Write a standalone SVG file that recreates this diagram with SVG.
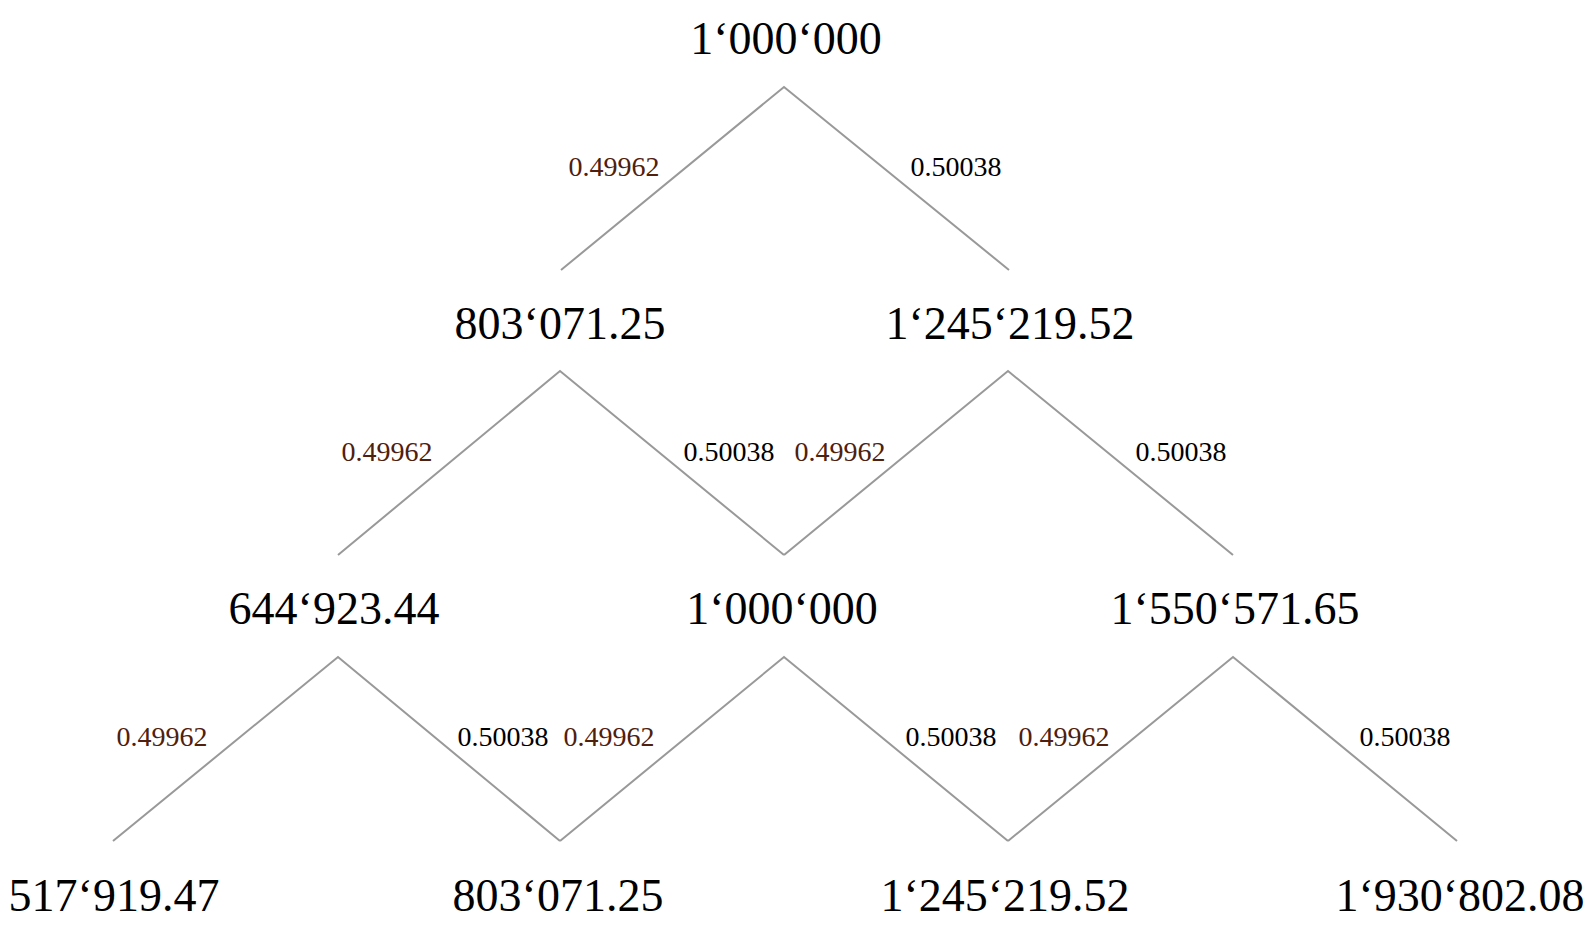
<svg xmlns="http://www.w3.org/2000/svg" width="1591" height="926" viewBox="0 0 1591 926">
<style>
.node{font-family:"Liberation Serif","DejaVu Serif",serif;font-size:46px;fill:#000;text-anchor:middle}
.pl{font-family:"Liberation Serif","DejaVu Serif",serif;font-size:28px;fill:#4f200d;text-anchor:middle}
.pr{font-family:"Liberation Serif","DejaVu Serif",serif;font-size:28px;fill:#000;text-anchor:middle}
.edge{fill:none;stroke:#999;stroke-width:2}
</style>
<rect width="1591" height="926" fill="#fff"/>
<g id="connectors">
<polyline class="edge" points="561,270 784,87 1009,270"/>
<polyline class="edge" points="338,555 560,371 784,555"/>
<polyline class="edge" points="784,555 1008,371 1233,555"/>
<polyline class="edge" points="113,841 338,657 560,841"/>
<polyline class="edge" points="560,841 784,657 1008,841"/>
<polyline class="edge" points="1008,841 1233,657 1457,841"/>
<text class="pl" x="614" y="176">0.49962</text>
<text class="pr" x="956" y="176">0.50038</text>
<text class="pl" x="387" y="461">0.49962</text>
<text class="pr" x="729" y="461">0.50038</text>
<text class="pl" x="840" y="461">0.49962</text>
<text class="pr" x="1181" y="461">0.50038</text>
<text class="pl" x="162" y="746">0.49962</text>
<text class="pr" x="503" y="746">0.50038</text>
<text class="pl" x="609" y="746">0.49962</text>
<text class="pr" x="951" y="746">0.50038</text>
<text class="pl" x="1064" y="746">0.49962</text>
<text class="pr" x="1405" y="746">0.50038</text>
</g>
<g id="n0"><text class="node" x="786" y="54">1‘000‘000</text></g>
<g id="n1"><text class="node" x="560" y="339">803‘071.25</text></g>
<g id="n2"><text class="node" x="1010" y="339">1‘245‘219.52</text></g>
<g id="n3"><text class="node" x="334" y="624">644‘923.44</text></g>
<g id="n4"><text class="node" x="782" y="624">1‘000‘000</text></g>
<g id="n5"><text class="node" x="1235" y="624">1‘550‘571.65</text></g>
<g id="n6"><text class="node" x="114" y="911">517‘919.47</text></g>
<g id="n7"><text class="node" x="558" y="911">803‘071.25</text></g>
<g id="n8"><text class="node" x="1005" y="911">1‘245‘219.52</text></g>
<g id="n9"><text class="node" x="1460" y="911">1‘930‘802.08</text></g>
</svg>
